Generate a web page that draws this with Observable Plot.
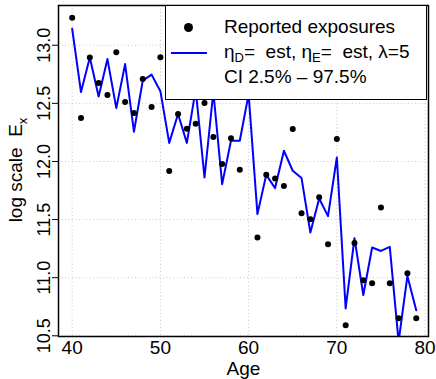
<!DOCTYPE html>
<html>
<head>
<meta charset="utf-8">
<script src="https://cdn.jsdelivr.net/npm/d3@7"></script>
<script src="https://cdn.jsdelivr.net/npm/@observablehq/plot@0.6"></script>
<style>
  html, body { margin: 0; padding: 0; background: #fff; }
  #wrap { position: relative; width: 436px; height: 379px; font-family: "Liberation Sans", Arial, Helvetica, sans-serif; }
  #legend { position: absolute; left: 165px; top: 5px; width: 262px; height: 95px; background: #fff; border: 1px solid #000; box-sizing: border-box; }
  #legend .row { position: absolute; left: 58px; font-size: 19px; line-height: 20px; color: #000; white-space: nowrap; }
  #legend sub { font-size: 13px; vertical-align: -4px; line-height: 0; }
  #legend .dot { position: absolute; left: 18px; top: 17px; width: 9px; height: 9px; border-radius: 50%; background: #000; }
  #legend .line { position: absolute; left: 5px; top: 46px; width: 36px; height: 2px; background: #0000ff; }
</style>
</head>
<body>
<div id="wrap"></div>
<script>
const ages = [40,41,42,43,44,45,46,47,48,49,50,51,52,53,54,55,56,57,58,59,
              60,61,62,63,64,65,66,67,68,69,70,71,72,73,74,75,76,77,78,79];
const reported = [13.236,12.374,12.894,12.676,12.572,12.940,12.512,12.417,12.710,12.469,
                  12.897,11.917,12.409,12.282,12.325,12.503,12.210,11.978,12.200,11.928,
                  12.750,11.345,11.885,11.853,11.788,12.279,11.554,11.503,11.693,11.288,
                  12.193,10.590,11.299,10.978,10.952,11.603,10.952,10.650,11.038,10.650];
const fitted = [13.141,12.597,12.894,12.559,12.881,12.459,12.838,12.256,12.696,12.747,
                12.605,12.160,12.409,12.160,12.620,11.862,12.600,11.805,12.178,12.178,
                12.580,11.547,11.885,11.771,12.092,11.920,11.857,11.388,11.681,11.530,
                12.034,10.736,11.340,10.851,11.260,11.230,11.265,10.450,11.015,10.719];
const xTicks = [40,50,60,70,80];
const yTicks = [10.5,11.0,11.5,12.0,12.5,13.0];

const pts = ages.map((a,i)=>({age:a, value:reported[i]}));
const fit = ages.map((a,i)=>({age:a, value:fitted[i]}));

const font = "Liberation Sans, Arial, Helvetica, sans-serif";
const grid = {stroke:"#c8c8c8", strokeOpacity:1, strokeDasharray:"1,2.5", strokeWidth:1};

const plot = Plot.plot({
  width: 436, height: 379,
  marginLeft: 58, marginRight: 8, marginTop: 5, marginBottom: 43,
  style: {fontFamily: font, background: "#fff", color: "#000"},
  x: {domain: [38.45, 80.39]},
  y: {domain: [10.494, 13.342]},
  marks: [
    Plot.gridX(xTicks, grid),
    Plot.gridY(yTicks, grid),
    Plot.line(fit, {x:"age", y:"value", stroke:"#0000ff", strokeWidth:2, clip:true}),
    Plot.dot(pts, {x:"age", y:"value", r:3, fill:"#000", stroke:"none", clip:true}),
    Plot.frame({stroke:"#000", strokeWidth:1.5}),
    Plot.axisX(xTicks, {tickSize:0, tickPadding:4, fontSize:19, label:"Age", labelAnchor:"center", labelOffset:38, labelArrow:"none"}),
    Plot.axisY(yTicks, {tickSize:6, tickRotate:-90, tickPadding:3, fontSize:18, tickFormat:d=>d.toFixed(1), label:null})
  ]
});

const wrap = document.getElementById("wrap");
wrap.appendChild(plot);

// y axis title with subscript
const svg = d3.select(plot);
const t = svg.append("text")
  .attr("transform", "translate(22,170) rotate(-90)")
  .attr("text-anchor", "middle")
  .attr("font-family", font)
  .attr("font-size", 19)
  .attr("fill", "#000");
t.append("tspan").text("log scale  E");
t.append("tspan").attr("font-size", 13).attr("dy", 5).text("x");

// legend
const lg = document.createElement("div");
lg.id = "legend";
lg.innerHTML = `
  <div class="dot"></div>
  <div class="line"></div>
  <div class="row" style="top:11px">Reported exposures</div>
  <div class="row" style="top:36px">η<sub>D</sub>=&nbsp; est, η<sub>E</sub>=&nbsp; est, λ=5</div>
  <div class="row" style="top:61px">CI 2.5% – 97.5%</div>`;
wrap.appendChild(lg);
</script>
</body>
</html>
